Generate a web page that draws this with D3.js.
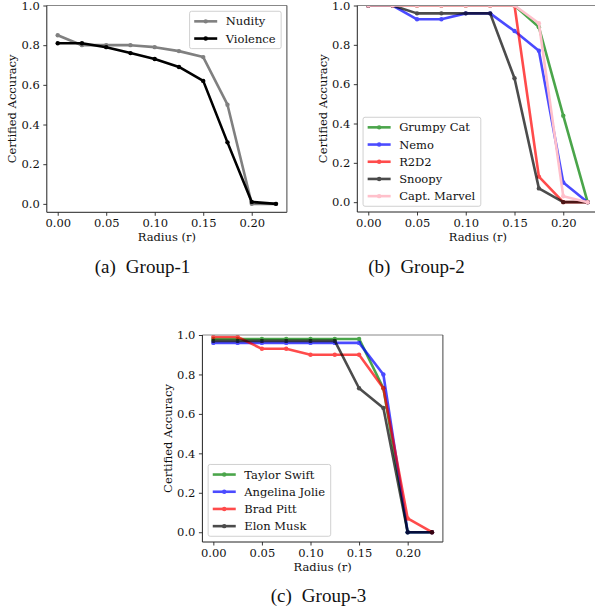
<!DOCTYPE html>
<html><head><meta charset="utf-8">
<script src="https://cdn.jsdelivr.net/npm/d3@7"></script>
<style>body{margin:0;background:#fff} svg{display:block}</style>
</head><body>
<script>
// ---- data ----
const radius = [0, 0.025, 0.05, 0.075, 0.1, 0.125, 0.15, 0.175, 0.2, 0.225];
const xTicks = [0, 0.05, 0.10, 0.15, 0.20];
const yTicks = [0, 0.2, 0.4, 0.6, 0.8, 1.0];
const xLabel = "Radius (r)";
const yLabel = "Certified Accuracy";

const g1Names = ["Nudity", "Violence"];
const nudity   = [0.85, 0.80, 0.80, 0.80, 0.79, 0.77, 0.74, 0.50, 0.00, 0.00];
const violence = [0.81, 0.81, 0.79, 0.76, 0.73, 0.69, 0.62, 0.31, 0.01, 0.00];

const g2Names = ["Grumpy Cat", "Nemo", "R2D2", "Snoopy", "Capt. Marvel"];
const grumpyCat   = [1.00, 1.00, 1.00, 1.00, 1.00, 1.00, 1.00, 0.89, 0.44, 0.00];
const nemo        = [1.00, 1.00, 0.93, 0.93, 0.96, 0.96, 0.87, 0.77, 0.10, 0.00];
const r2d2        = [1.00, 1.00, 1.00, 1.00, 1.00, 1.00, 1.00, 0.13, 0.00, 0.00];
const snoopy      = [1.00, 1.00, 0.96, 0.96, 0.96, 0.96, 0.63, 0.07, 0.00, 0.00];
const captMarvel  = [1.00, 1.00, 1.00, 1.00, 1.00, 1.00, 1.00, 0.91, 0.03, 0.00];

const g3Names = ["Taylor Swift", "Angelina Jolie", "Brad Pitt", "Elon Musk"];
const taylorSwift    = [0.98, 0.98, 0.98, 0.98, 0.98, 0.98, 0.98, 0.73, 0.00, 0.00];
const angelinaJolie  = [0.96, 0.96, 0.96, 0.96, 0.96, 0.96, 0.96, 0.80, 0.00, 0.00];
const bradPitt       = [0.99, 0.99, 0.93, 0.93, 0.90, 0.90, 0.90, 0.73, 0.07, 0.00];
const elonMusk       = [0.97, 0.97, 0.97, 0.97, 0.97, 0.97, 0.73, 0.63, 0.00, 0.00];

const captions = ["(a)", "(b)", "(c)"];
const groupTitles = ["Group-1", "Group-2", "Group-3"];

// ---- drawing ----
const W = 595, H = 611;
const svg = d3.select("body").append("svg").attr("width", W).attr("height", H);
const FONT = "'DejaVu Serif', serif";
const FS = 11.5;
const TXT = "#111";

const panels = [
  { box: [46.8, 286.9, 5.5, 212.3], ylo: -0.0425, legend: "ur",
    series: [
      { name: g1Names[0], vals: nudity, color: "#808080", alpha: 1 },
      { name: g1Names[1], vals: violence, color: "#000000", alpha: 1 }],
    cap: { x: 142.5, y: 273 } },
  { box: [357.3, 598.6, 5.5, 212], ylo: -0.05, legend: "ll",
    series: [
      { name: g2Names[0], vals: grumpyCat, color: "green", alpha: 0.7 },
      { name: g2Names[1], vals: nemo, color: "blue", alpha: 0.7 },
      { name: g2Names[2], vals: r2d2, color: "red", alpha: 0.7 },
      { name: g2Names[3], vals: snoopy, color: "black", alpha: 0.7 },
      { name: g2Names[4], vals: captMarvel, color: "pink", alpha: 1 }],
    cap: { x: 416.5, y: 273 } },
  { box: [202.4, 442.9, 335, 542], ylo: -0.0495, legend: "ll",
    series: [
      { name: g3Names[0], vals: taylorSwift, color: "green", alpha: 0.7 },
      { name: g3Names[1], vals: angelinaJolie, color: "blue", alpha: 0.7 },
      { name: g3Names[2], vals: bradPitt, color: "red", alpha: 0.7 },
      { name: g3Names[3], vals: elonMusk, color: "black", alpha: 0.7 }],
    cap: { x: 318.5, y: 602 } }
];

panels.forEach((p, pi) => {
  const [x0, x1, y0, y1] = p.box;
  const x = d3.scaleLinear().domain([-0.01125, 0.23625]).range([x0, x1]);
  const y = d3.scaleLinear().domain([p.ylo, 1.0]).range([y1, y0]);
  const g = svg.append("g");

  const clipId = "clip" + pi;
  svg.append("clipPath").attr("id", clipId).append("rect")
    .attr("x", x0).attr("y", y0).attr("width", x1 - x0).attr("height", y1 - y0);

  // axes
  const xa = g.append("g").attr("transform", `translate(0,${y1})`)
    .call(d3.axisBottom(x).tickValues(xTicks).tickFormat(d3.format(".2f")).tickSize(3.5).tickPadding(3));
  const ya = g.append("g").attr("transform", `translate(${x0},0)`)
    .call(d3.axisLeft(y).tickValues(yTicks).tickFormat(d3.format(".1f")).tickSize(3.5).tickPadding(3.5));
  [xa, ya].forEach(a => {
    a.select(".domain").remove();
    a.selectAll("text").attr("font-family", FONT).attr("font-size", FS).attr("fill", TXT);
    a.selectAll("line").attr("stroke", "#222").attr("stroke-width", 0.9);
  });

  // lines
  const lg = g.append("g").attr("clip-path", `url(#${clipId})`);
  const line = d3.line().x((d, i) => x(radius[i])).y(d => y(d));
  p.series.forEach(s => {
    const sg = lg.append("g").attr("opacity", s.alpha);
    sg.append("path").datum(s.vals).attr("d", line)
      .attr("fill", "none").attr("stroke", s.color).attr("stroke-width", 2.6)
      .attr("stroke-linejoin", "round");
    sg.selectAll("circle").data(s.vals).join("circle")
      .attr("cx", (d, i) => x(radius[i])).attr("cy", d => y(d)).attr("r", 2.2)
      .attr("fill", s.color);
  });

  // spines
  g.append("line").attr("x1", x0).attr("x2", x1).attr("y1", y0).attr("y2", y0).attr("stroke", "#888").attr("stroke-width", 1);
  g.append("line").attr("x1", x0).attr("x2", x1).attr("y1", y1).attr("y2", y1).attr("stroke", "#222").attr("stroke-width", 1);
  g.append("line").attr("x1", x0).attr("x2", x0).attr("y1", y0).attr("y2", y1).attr("stroke", "#222").attr("stroke-width", 1);
  g.append("line").attr("x1", x1).attr("x2", x1).attr("y1", y0).attr("y2", y1).attr("stroke", "#444").attr("stroke-width", 1);

  // labels
  g.append("text").attr("x", (x0 + x1) / 2).attr("y", y1 + 28.5).attr("text-anchor", "middle")
    .attr("font-family", FONT).attr("font-size", FS).attr("fill", TXT).text(xLabel);
  g.append("text").attr("transform", `translate(${x0 - 30.5},${(y0 + y1) / 2}) rotate(-90)`)
    .attr("text-anchor", "middle").attr("font-family", FONT).attr("font-size", FS).attr("fill", TXT).text(yLabel);

  // legend
  const pad = 4.6, rowH = 11, gap = 6.2, hl = 23, htp = 8.5, bap = 5.75;
  const n = p.series.length;
  const boxH = 2 * pad + n * rowH + (n - 1) * gap;
  const leg = g.append("g");
  const rect = leg.append("rect").attr("rx", 2).attr("ry", 2)
    .attr("fill", "#fff").attr("fill-opacity", 0.85).attr("stroke", "#d0d0d0").attr("stroke-width", 1);
  const items = leg.append("g");
  let maxW = 0;
  p.series.forEach((s, i) => {
    const cy = pad + rowH / 2 + i * (rowH + gap);
    const ig = items.append("g").attr("opacity", s.alpha);
    ig.append("line").attr("x1", pad).attr("x2", pad + hl).attr("y1", cy).attr("y2", cy)
      .attr("stroke", s.color).attr("stroke-width", 2.6);
    ig.append("circle").attr("cx", pad + hl / 2).attr("cy", cy).attr("r", 2.2).attr("fill", s.color);
    const t = items.append("text").attr("x", pad + hl + htp).attr("y", cy).attr("dy", "0.36em")
      .attr("font-family", FONT).attr("font-size", FS).attr("fill", TXT).text(s.name);
    maxW = Math.max(maxW, t.node().getComputedTextLength());
  });
  const boxW = pad + hl + htp + maxW + pad + 1;
  let lx, ly;
  if (p.legend === "ur") { lx = x1 - bap - boxW; ly = y0 + bap; }
  else { lx = x0 + bap; ly = y1 - bap - boxH; }
  leg.attr("transform", `translate(${lx},${ly})`);
  rect.attr("x", 0).attr("y", 0).attr("width", boxW).attr("height", boxH);

  // caption
  const ct = svg.append("text").attr("x", p.cap.x).attr("y", p.cap.y).attr("text-anchor", "middle")
    .attr("font-family", "'Liberation Serif', 'Times New Roman', serif").attr("font-size", 19).attr("fill", "#111");
  ct.append("tspan").text(captions[pi]);
  ct.append("tspan").attr("dx", 10).text(groupTitles[pi]);
});
</script>
</body></html>
